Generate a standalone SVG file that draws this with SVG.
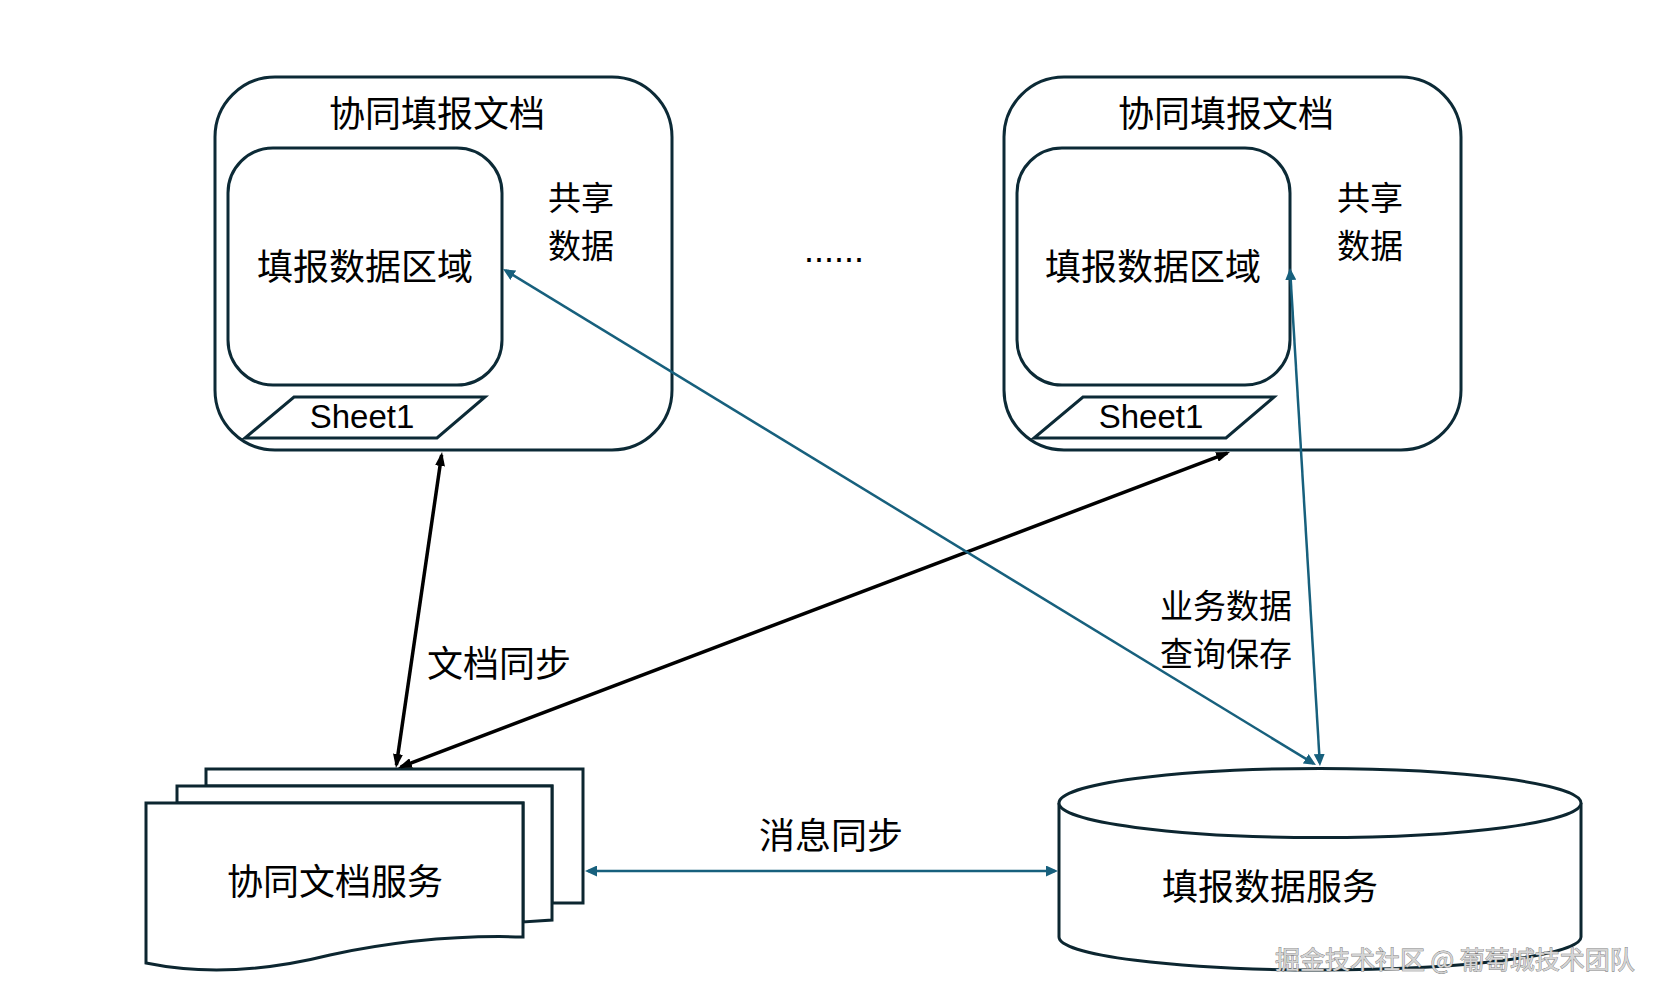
<svg xmlns="http://www.w3.org/2000/svg" width="1661" height="1002" viewBox="0 0 1661 1002">
<style>
.box{fill:#fff;stroke:#0c2a36;stroke-width:3}
.doc{fill:#fff;stroke:#0c2630;stroke-width:3;stroke-linejoin:miter}
.t{font-family:"Noto Sans CJK SC","Liberation Sans",sans-serif;font-size:36px;fill:#000;text-anchor:middle}
.t2{font-family:"Noto Sans CJK SC","Liberation Sans",sans-serif;font-size:33px;fill:#000;text-anchor:middle}
.lat{font-family:"Liberation Sans","Noto Sans CJK SC",sans-serif;font-size:33px;fill:#000;text-anchor:middle}
.blk{stroke:#000;stroke-width:3.5;fill:none;marker-start:url(#ab);marker-end:url(#ab)}
.teal{stroke:#17607d;stroke-width:2.5;fill:none;marker-start:url(#at);marker-end:url(#at)}
.wm{font-family:"Noto Sans CJK SC",sans-serif;font-size:25px;fill:#d4d4d4;stroke:#7a7a7a;stroke-width:0.8;paint-order:stroke}
</style>
<defs>
<marker id="ab" viewBox="0 0 14 10" refX="11" refY="5" markerWidth="14" markerHeight="10" markerUnits="userSpaceOnUse" orient="auto-start-reverse">
<path d="M0,0 L14,5 L0,10 z" fill="#000"/>
</marker>
<marker id="at" viewBox="0 0 12 11" refX="9" refY="5.5" markerWidth="12" markerHeight="11" markerUnits="userSpaceOnUse" orient="auto-start-reverse">
<path d="M0,0 L12,5.5 L0,11 z" fill="#17607d"/>
</marker>
</defs>
<rect width="1661" height="1002" fill="#fff"/>

<g id="doc-left">
<rect class="box" x="215" y="77" width="457" height="373" rx="60"/>
<text class="t" x="437" y="127">协同填报文档</text>
<text class="t2" x="581" y="210">共享</text>
<text class="t2" x="581" y="258">数据</text>
</g>
<g id="area-left">
<rect class="box" x="228" y="148" width="274" height="237" rx="45"/>
<text class="t" x="365" y="280">填报数据区域</text>
</g>
<g id="sheet-left">
<path class="box" d="M294,397 L485,397 L437,438 L245,438 Z"/>
<text class="lat" x="362" y="428">Sheet1</text>
</g>

<g id="doc-right">
<rect class="box" x="1004" y="77" width="457" height="373" rx="60"/>
<text class="t" x="1226" y="127">协同填报文档</text>
<text class="t2" x="1370" y="210">共享</text>
<text class="t2" x="1370" y="258">数据</text>
</g>
<g id="area-right">
<rect class="box" x="1017" y="148" width="273" height="237" rx="45"/>
<text class="t" x="1153" y="280">填报数据区域</text>
</g>
<g id="sheet-right">
<path class="box" d="M1083,397 L1274,397 L1226,438 L1034,438 Z"/>
<text class="lat" x="1151" y="428">Sheet1</text>
</g>

<g id="ellipsis">
<text x="804" y="262" style="font-family:'Liberation Sans',sans-serif;font-size:36px;fill:#000">......</text>
</g>

<g id="doc-service">
<path class="doc" d="M206,769 H583 V903 H552 V786 H206 Z"/>
<path class="doc" d="M177,786 H552 V920 L523,922 V803 H177 Z"/>
<path class="doc" d="M146,803 H523 V937 C460,935 400,940 330,955 C250,975 190,972 146,963 Z"/>
<text class="t" x="335" y="895">协同文档服务</text>
</g>

<g id="data-service">
<path class="doc" d="M1059,803 V937 A261,33 0 0 0 1581,937 V803"/>
<ellipse class="doc" cx="1320" cy="803" rx="261" ry="34.5"/>
<text class="t" x="1270" y="900">填报数据服务</text>
</g>

<g id="connectors">
<line class="blk" x1="441.6" y1="455" x2="396.4" y2="765"/>
<line class="blk" x1="1227.2" y1="453.1" x2="400.8" y2="766.9"/>
<line class="teal" x1="505.6" y1="270.6" x2="1313.4" y2="763.4"/>
<line class="teal" x1="1290.2" y1="271" x2="1319.8" y2="763"/>
<line class="teal" x1="588" y1="871" x2="1055" y2="871"/>
</g>

<g id="labels">
<text class="t" x="499" y="677">文档同步</text>
<text class="t2" x="1226" y="618">业务数据</text>
<text class="t2" x="1226" y="666">查询保存</text>
<text class="t" x="831" y="849">消息同步</text>
</g>

<text class="wm" x="1275" y="969">掘金技术社区 @ 葡萄城技术团队</text>
</svg>
